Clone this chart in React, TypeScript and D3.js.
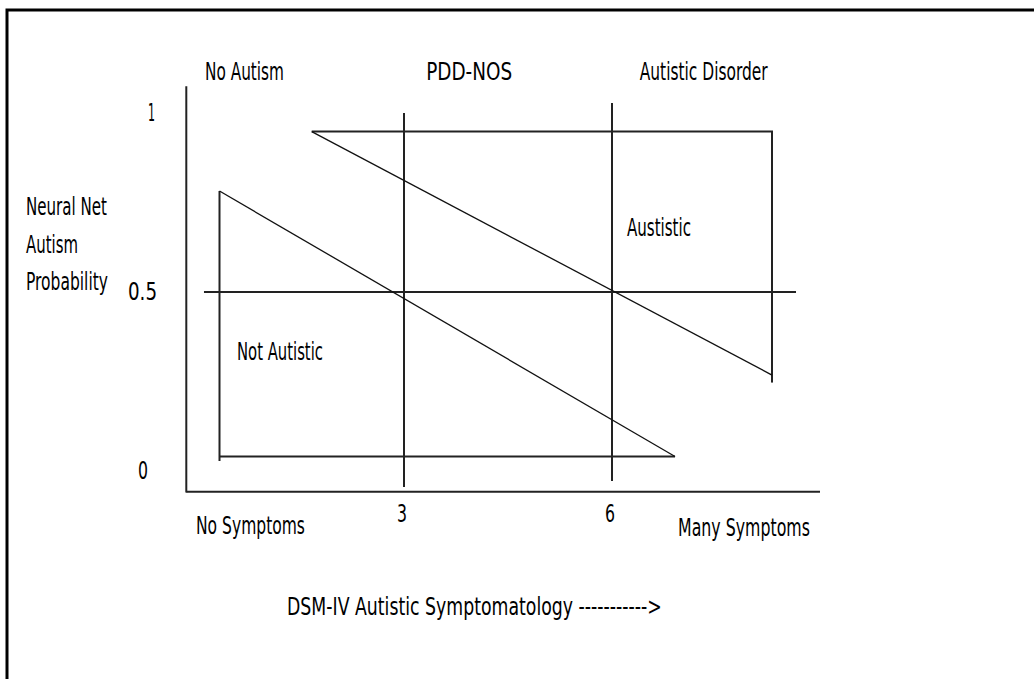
import React, { useLayoutEffect, useRef, useState } from "react";
import * as d3 from "d3";

// ---- data ----
const yTicks = [0, 0.5, 1];
const yTickLabels = ["0", "0.5", "1"];
const xTicks = [3, 6];
const xTickLabels = ["3", "6"];
const regionLabels = ["No Autism", "PDD-NOS", "Autistic Disorder"];
const regionLabelX = [0.13, 3.32, 6.4];
const yTitleLines = ["Neural Net", "Autism", "Probability"];
const xEndLabels = ["No Symptoms", "Many Symptoms"];
const xTitle = "DSM-IV Autistic Symptomatology ----------->";

// threshold lines
const symptomCutoffs = [3, 6];
const cutoffTop = [1.0, 1.028];
const cutoffBottom = [-0.045, -0.028];
const probCutoff = 0.5;
const probCutoffExtent = [0.115, 8.654];

// "Not Autistic" triangle
const notAutisticDiag = [
  { x: 0.339, y: 0.782 },
  { x: 6.909, y: 0.0405 },
];
const notAutisticBase = [
  { x: 0.339, y: 0.0405 },
  { x: 6.909, y: 0.0405 },
];
const notAutisticSide = [
  { x: 0.339, y: 0.782 },
  { x: 0.339, y: 0.028 },
];

// "Austistic" triangle
const autisticDiag = [
  { x: 1.669, y: 0.948 },
  { x: 8.308, y: 0.268 },
];
const autisticTop = [
  { x: 1.669, y: 0.948 },
  { x: 8.322, y: 0.948 },
];
const autisticSide = [
  { x: 8.308, y: 0.948 },
  { x: 8.308, y: 0.247 },
];

// axes extents
const xAxisExtent = [-0.14, 9];
const yAxisExtent = [-0.06, 1.075];
const xAxisY = -0.058;

const FONT = "'Liberation Sans Narrow', 'Arial Narrow', 'DejaVu Sans Condensed', sans-serif";
const FONT_SIZE = 24;

function FitText({
  x,
  y,
  width,
  children,
}: {
  x: number;
  y: number;
  width: number;
  children: React.ReactNode;
}) {
  const ref = useRef<SVGTextElement>(null);
  const [s, setS] = useState(1);
  useLayoutEffect(() => {
    if (ref.current) {
      const w = ref.current.getComputedTextLength();
      if (w > 0) setS(width / w);
    }
  }, [width]);
  return (
    <text
      ref={ref}
      transform={`translate(${x},${y}) scale(${s},1)`}
      fontFamily={FONT}
      fontSize={FONT_SIZE}
      fill="#000"
    >
      {children}
    </text>
  );
}

export default function App() {
  const W = 1034;
  const H = 679;
  const x = d3.scaleLinear().domain([0, 9]).range([196, 820]);
  const y = d3.scaleLinear().domain([0, 1]).range([471, 113]);
  const line = d3
    .line<{ x: number; y: number }>()
    .x((d) => x(d.x))
    .y((d) => y(d.y));

  const regionWidths = [79, 86, 128];
  const yTitleWidths = [81, 52, 82];
  const yTitleBase = [215, 253, 290];
  const yTickWidths = [10, 29, 7];
  const yTickEnd = [148, 157, 155];
  const xTickWidths = [10, 10];

  return (
    <svg
      width={W}
      height={H}
      style={{ position: "absolute", left: 0, top: 0, background: "#fff" }}
    >
      <rect x={0} y={0} width={W} height={H} fill="#fff" />
      {/* frame */}
      <rect x={7} y={10} width={1100} height={1000} fill="none" stroke="#000" strokeWidth={3} />

      {/* axes */}
      <line
        x1={x(xAxisExtent[0])}
        x2={x(xAxisExtent[1])}
        y1={y(xAxisY)}
        y2={y(xAxisY)}
        stroke="#222"
        strokeWidth={2}
      />
      <line
        x1={x(xAxisExtent[0])}
        x2={x(xAxisExtent[0])}
        y1={y(yAxisExtent[0])}
        y2={y(yAxisExtent[1])}
        stroke="#222"
        strokeWidth={2}
      />

      {/* cutoff lines */}
      {symptomCutoffs.map((c, i) => (
        <line
          key={"c" + i}
          x1={x(c)}
          x2={x(c)}
          y1={y(cutoffTop[i])}
          y2={y(cutoffBottom[i])}
          stroke="#222"
          strokeWidth={2}
        />
      ))}
      <line
        x1={x(probCutoffExtent[0])}
        x2={x(probCutoffExtent[1])}
        y1={y(probCutoff)}
        y2={y(probCutoff)}
        stroke="#222"
        strokeWidth={2}
      />

      {/* triangles */}
      <path d={line(notAutisticBase) || ""} stroke="#222" strokeWidth={2} fill="none" />
      <path d={line(notAutisticSide) || ""} stroke="#222" strokeWidth={2} fill="none" />
      <path d={line(notAutisticDiag) || ""} stroke="#111" strokeWidth={1.3} fill="none" />
      <path d={line(autisticTop) || ""} stroke="#222" strokeWidth={2} fill="none" />
      <path d={line(autisticSide) || ""} stroke="#222" strokeWidth={2} fill="none" />
      <path d={line(autisticDiag) || ""} stroke="#111" strokeWidth={1.3} fill="none" />

      {/* region labels */}
      {regionLabels.map((t, i) => (
        <FitText key={"r" + i} x={x(regionLabelX[i])} y={80} width={regionWidths[i]}>
          {t}
        </FitText>
      ))}

      {/* y tick labels */}
      {yTicks.map((v, i) => (
        <FitText
          key={"yt" + i}
          x={yTickEnd[i] - yTickWidths[i]}
          y={y(v) + 8}
          width={yTickWidths[i]}
        >
          {yTickLabels[i]}
        </FitText>
      ))}

      {/* x tick labels */}
      {xTicks.map((v, i) => (
        <FitText
          key={"xt" + i}
          x={x(v) - 2 - xTickWidths[i] / 2}
          y={522}
          width={xTickWidths[i]}
        >
          {xTickLabels[i]}
        </FitText>
      ))}

      {/* y title */}
      {yTitleLines.map((t, i) => (
        <FitText key={"yl" + i} x={26} y={yTitleBase[i]} width={yTitleWidths[i]}>
          {t}
        </FitText>
      ))}

      {/* area labels */}
      <FitText x={237} y={360} width={86}>
        Not Autistic
      </FitText>
      <FitText x={627} y={236} width={64}>
        Austistic
      </FitText>

      {/* x end labels */}
      <FitText x={196} y={534} width={109}>
        {xEndLabels[0]}
      </FitText>
      <FitText x={678} y={536} width={132}>
        {xEndLabels[1]}
      </FitText>

      {/* x title */}
      <FitText x={287} y={615} width={375}>
        {xTitle}
      </FitText>
    </svg>
  );
}
